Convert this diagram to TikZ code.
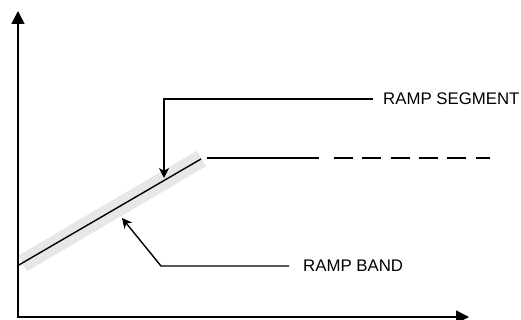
\documentclass[tikz,border=0pt]{standalone}
\usepackage{fontspec}
\setmainfont{Liberation Sans}
\usetikzlibrary{arrows.meta}
\definecolor{bandgray}{HTML}{E6E7E7}
\tikzset{
  axis/.style={line width=1.6pt, -{Triangle[length=13pt,width=13pt]}},
  leader/.style={line width=1.4pt, -{Stealth[length=10pt,width=10pt,inset=3pt]}},
  lbl/.style={font=\fontsize{16.8}{19}\selectfont, inner sep=0pt, anchor=west},
  ramp/.style={line width=1.4pt},
  bandstyle/.style={line width=18pt, bandgray}
}
\begin{document}
\begin{tikzpicture}[x=1pt,y=-1pt]
\useasboundingbox (0,0) rectangle (521,320);
\coordinate (O) at (18,317);
\coordinate (ytop) at (18,11);
\coordinate (xend) at (469,317);
% band
\coordinate (b1) at (22.5,263.5);
\coordinate (b2) at (201.5,158.5);
\draw[bandstyle] (b1) -- (b2);
% ramp segment line
\coordinate (r1) at (18,265.5);
\coordinate (r2) at (201,159);
\draw[ramp] (r1) -- (r2);
% flat line
\coordinate (f1) at (207,158);
\coordinate (f2) at (319,158);
\coordinate (f3) at (334,158);
\coordinate (f4) at (490,158);
\draw[ramp] (f1) -- (f2);
\draw[ramp, dash pattern=on 19pt off 9.3pt] (f3) -- (f4);
% axes
\draw[axis] (O) -- (ytop);
\draw[axis] ([xshift=-0.8pt]O) -- (xend);
% labels
\node[lbl] (seg) at (383,99) {RAMP SEGMENT};
\node[lbl] (band) at (303,266) {RAMP BAND};
% leaders
\coordinate (s1) at (164,99);
\coordinate (s2) at (164,178);
\draw[leader] ([xshift=-10pt]seg.west) -- (s1) -- (s2);
\coordinate (k1) at (161,266);
\coordinate (k2) at (122,218);
\draw[leader] ([xshift=-14pt]band.west) -- (k1) -- (k2);
\end{tikzpicture}
\end{document}
